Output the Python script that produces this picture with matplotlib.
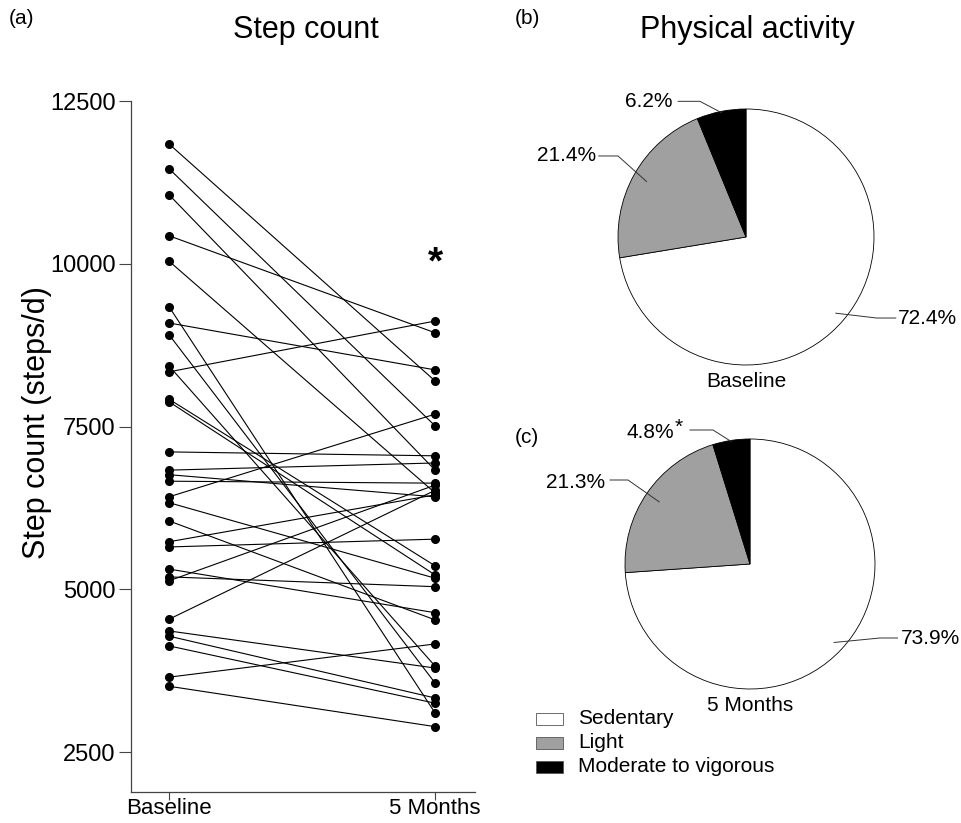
import numpy as np
import matplotlib
matplotlib.use("Agg")
import matplotlib.pyplot as plt
from matplotlib.patches import Rectangle

plt.rcParams['font.family'] = ['Liberation Sans', 'DejaVu Sans']

# step counts per participant (steps/d)
baseline = [11840, 11460, 11060, 10430, 10040, 9340, 9090, 8910, 8430, 8340,
            7920, 7880, 7110, 6830, 6760, 6660, 6420, 6330, 6050, 5730,
            5650, 5310, 5190, 5130, 4540, 4360, 4280, 4130, 3650, 3510]
month5 = [8200, 7510, 6830, 8940, 6480, 3100, 8370, 3560, 3820, 9120,
          5360, 5220, 7050, 6940, 6420, 6630, 7690, 5170, 4530, 6450,
          5770, 4640, 5040, 6600, 6520, 3790, 3330, 3250, 4160, 2890]
timepoints = ["Baseline", "5 Months"]
y_ticks = [2500, 5000, 7500, 10000, 12500]

# physical activity shares (%)
categories = ["Sedentary", "Light", "Moderate to vigorous"]
pa_baseline = [72.4, 21.4, 6.2]
pa_month5 = [73.9, 21.3, 4.8]
pie_colors = ["white", "#a0a0a0", "black"]

W, H = 962, 823
fig = plt.figure(figsize=(W / 100, H / 100), dpi=100)


def px_axes(x0, y0, x1, y1):
    # axes from pixel box (top-left origin)
    return fig.add_axes([x0 / W, 1 - y1 / H, (x1 - x0) / W, (y1 - y0) / H])


# ---- (a) step count ----
ax = px_axes(131, 101, 475, 792)
for b, m in zip(baseline, month5):
    ax.plot([0, 1], [b, m], color="black", lw=0.8, zorder=2)
ax.plot(np.zeros(len(baseline)), baseline, "o", color="black", ms=5.5, zorder=3)
ax.plot(np.ones(len(month5)), month5, "o", color="black", ms=5.5, zorder=3)
ax.set_xlim(-0.143, 1.150)
ax.set_ylim(1886, 12500)
ax.set_yticks(y_ticks)
ax.set_xticks([0, 1])
ax.set_xticklabels(timepoints)
ax.tick_params(labelsize=17, width=0.8, color="#444444")
ax.tick_params(axis="y", length=9, pad=2)
ax.tick_params(axis="x", length=5.5, pad=-1, labelsize=16)
for s in ["top", "right"]:
    ax.spines[s].set_visible(False)
for s in ["left", "bottom"]:
    ax.spines[s].set_linewidth(0.9)
    ax.spines[s].set_color("#444444")
ax.text(1, 10000, "*", fontsize=28, fontweight="bold", ha="center", va="center")

fig.text(37 / W, 1 - 423 / H, "Step count (steps/d)", fontsize=22,
         rotation=90, ha="center", va="center")
fig.text(22 / W, 1 - 18 / H, "(a)", fontsize=15, ha="center", va="center")
fig.text(306 / W, 1 - 30 / H, "Step count", fontsize=22, ha="center", va="center")
fig.text(527 / W, 1 - 18 / H, "(b)", fontsize=15, ha="center", va="center")
fig.text(747 / W, 1 - 30 / H, "Physical activity", fontsize=22, ha="center", va="center")
fig.text(527 / W, 1 - 437 / H, "(c)", fontsize=15, ha="center", va="center")


# ---- (b), (c) pies ----
def draw_pie(cx, cy, r, values, labels_layout, caption, cap_y):
    half = 170
    pax = px_axes(cx - half, cy - half, cx + half, cy + half)
    lim = half / r
    pax.pie(values, colors=pie_colors, startangle=90, counterclock=False,
            wedgeprops=dict(edgecolor="black", linewidth=0.6))
    pax.set_xlim(-lim, lim)
    pax.set_ylim(-lim, lim)
    pax.set_aspect("equal")
    pax.axis("off")
    start = 90.0
    for v, (rad, elbow, end, tx, ty, ha) in zip(values, labels_layout):
        span = v / sum(values) * 360
        mid = np.deg2rad(start - span / 2)
        start -= span
        ax_, ay_ = rad * np.cos(mid), rad * np.sin(mid)
        pax.plot([ax_, elbow[0], end[0]], [ay_, elbow[1], end[1]],
                 color="#333333", lw=0.7, clip_on=False)
        pax.text(tx, ty, f"{v:.1f}%", fontsize=15, ha=ha, va="center")
    pax.text(0, cap_y, caption, fontsize=15, ha="center", va="center")
    return pax


p1 = draw_pie(746, 237, 128, pa_baseline, [
    (0.92, (1.02, -0.633), (1.17, -0.633), 1.19, -0.633, "left"),
    (0.89, (-1.0, 0.633), (-1.15, 0.633), -1.17, 0.633, "right"),
    (0.99, (-0.36, 1.06), (-0.53, 1.06), -0.575, 1.06, "right"),
], "Baseline", -1.13)

p2 = draw_pie(750, 564, 125, pa_month5, [
    (0.92, (1.04, -0.592), (1.18, -0.592), 1.21, -0.592, "left"),
    (0.88, (-0.976, 0.672), (-1.12, 0.672), -1.16, 0.656, "right"),
    (0.99, (-0.296, 1.072), (-0.48, 1.072), -0.61, 1.048, "right"),
], "5 Months", -1.13)
p2.text(-0.60, 1.09, "*", fontsize=15, ha="left", va="center")

# legend
for i, (lab, col) in enumerate(zip(categories, pie_colors)):
    yc = 719 + i * 24
    fig.patches.append(Rectangle((536 / W, 1 - (yc + 6) / H), 27 / W, 12 / H,
                                 transform=fig.transFigure, facecolor=col,
                                 edgecolor="#555555", lw=0.6))
    fig.text(578 / W, 1 - yc / H, lab, fontsize=15, ha="left", va="center")

fig.savefig("out.png", dpi=100)
